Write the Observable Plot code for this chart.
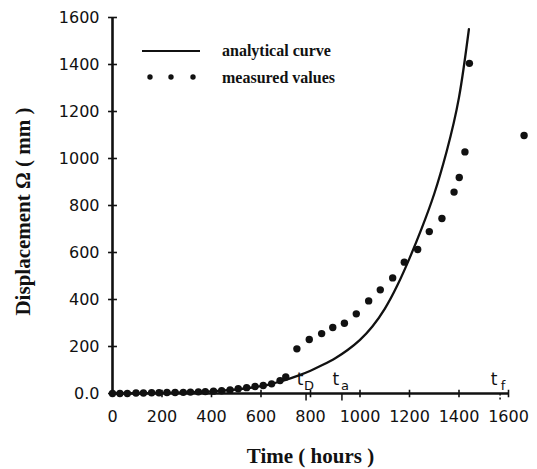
<!DOCTYPE html>
<html>
<head>
<meta charset="utf-8">
<script src="https://cdn.jsdelivr.net/npm/d3@7"></script>
<script src="https://cdn.jsdelivr.net/npm/@observablehq/plot@0.6"></script>
<style>
  html, body { margin: 0; padding: 0; background: #fff; }
  #wrap { position: relative; width: 537px; height: 469px; }
  #legend { position: absolute; left: 0; top: 0; pointer-events: none; }
</style>
</head>
<body>
<div id="wrap"></div>
<script>
// ---- data ----
const curveTime = [0, 100, 200, 300, 400, 500, 600, 650, 700, 750, 800, 850, 900, 950, 1000, 1050, 1100, 1150, 1200, 1250, 1300, 1350, 1400, 1440];
const curveDisp = [0, 1, 3, 5, 9, 17, 31, 43, 58, 76, 97, 122, 150, 185, 228, 285, 360, 458, 575, 705, 850, 1030, 1260, 1550];

const measTime = [0, 30, 60, 95, 125, 158, 188, 220, 253, 286, 315, 347, 375, 408, 441, 475, 508, 542, 576, 609, 643, 677, 700, 745, 795, 845, 890, 937, 985, 1035, 1082, 1132, 1179, 1233, 1280, 1331, 1380, 1401, 1424, 1442, 1663];
const measDisp = [0, 0, 0, 2, 2, 3, 3, 4, 4, 5, 6, 7, 8, 10, 12, 15, 20, 25, 30, 34, 41, 55, 70, 190, 230, 255, 281, 299, 339, 394, 441, 492, 559, 613, 689, 745, 857, 919, 1028, 1405, 1098];

const xTicks = [0, 200, 400, 600, 800, 1000, 1200, 1400, 1600];
const yTicks = [0, 200, 400, 600, 800, 1000, 1200, 1400, 1600];
const yTickLabels = ["0.0", "200", "400", "600", "800", "1000", "1200", "1400", "1600"];

const markerTime = [782, 927, 1566];
const markerSub = ["D", "a", "f"];
const markerDash = [null, null, "2,2"];

const legendLabels = ["analytical curve", "measured values"];
const xLabel = "Time ( hours )";
const yLabel = "Displacement \u03A9 ( mm )";

// ---- tables ----
const curve = curveTime.map((t, i) => ({t, v: curveDisp[i]}));
const meas = measTime.map((t, i) => ({t, v: measDisp[i]}));
const markers = markerTime.map((t, i) => ({t, sub: markerSub[i], dash: markerDash[i]}));

const serif = "'Liberation Serif', 'Times New Roman', serif";
const sans = "'DejaVu Sans', sans-serif";

const chart = Plot.plot({
  width: 537,
  height: 469,
  marginLeft: 112,
  marginRight: 29,
  marginTop: 17,
  marginBottom: 76,
  style: {fontFamily: sans, fontSize: "16px", background: "#fff", color: "#111", overflow: "visible"},
  x: {domain: [0, 1600]},
  y: {domain: [0, 1600]},
  marks: [
    // axis lines
    Plot.ruleY([0], {x1: -8, x2: 1600, stroke: "#111", strokeWidth: 2.6}),
    Plot.ruleX([0], {y1: -4, y2: 1600, stroke: "#111", strokeWidth: 2.6}),
    // crossing tick marks
    Plot.link(yTicks, {x1: -18, x2: 18, y1: d => d, y2: d => d, stroke: "#111", strokeWidth: 1.6}),
    Plot.link(xTicks.filter(d => d > 0), {x1: d => d, x2: d => d, y1: -16, y2: 16, stroke: "#111", strokeWidth: 1.6}),
    // tick labels
    Plot.axisY({ticks: yTicks, tickSize: 0, tickPadding: 13, tickFormat: d => yTickLabels[yTicks.indexOf(d)], label: null, fontSize: 16}),
    Plot.axisX({ticks: xTicks, tickSize: 0, tickPadding: 17, tickFormat: d => String(d), label: null, fontSize: 16}),
    // event markers t_D, t_a, t_f
    Plot.link(markers.filter(d => !d.dash), {x1: "t", x2: "t", y1: 0, y2: -30, stroke: "#111", strokeWidth: 1.5}),
    Plot.link(markers.filter(d => d.dash), {x1: "t", x2: "t", y1: 0, y2: -30, stroke: "#111", strokeWidth: 1.5, strokeDasharray: "2,2"}),
    Plot.text(markers, {x: "t", y: 0, text: () => "t", dx: -6, dy: -14, fontFamily: sans, fontSize: 17, fill: "#111"}),
    Plot.text(markers, {x: "t", y: 0, text: "sub", dx: 3, dy: -8, fontFamily: sans, fontSize: 13, fill: "#111"}),
    // analytical curve
    Plot.line(curve, {x: "t", y: "v", curve: "natural", stroke: "#111", strokeWidth: 2.3}),
    // measured values
    Plot.dot(meas, {x: "t", y: "v", r: 3.7, fill: "#111", stroke: "none"}),
    // axis labels
    Plot.text([xLabel], {frameAnchor: "bottom", textAnchor: "middle", dy: 69, fontFamily: serif, fontWeight: "bold", fontSize: 21, fill: "#111"}),
    Plot.text([yLabel], {frameAnchor: "left", textAnchor: "middle", dx: -89, dy: 6, rotate: -90, fontFamily: serif, fontWeight: "bold", fontSize: 21, fill: "#111"})
  ]
});

const wrap = document.getElementById("wrap");
wrap.appendChild(chart);

// legend overlay
const ns = "http://www.w3.org/2000/svg";
const lg = document.createElementNS(ns, "svg");
lg.setAttribute("id", "legend");
lg.setAttribute("width", 537);
lg.setAttribute("height", 120);
const line = document.createElementNS(ns, "line");
line.setAttribute("x1", 142); line.setAttribute("x2", 200);
line.setAttribute("y1", 51); line.setAttribute("y2", 51);
line.setAttribute("stroke", "#111"); line.setAttribute("stroke-width", 2);
lg.appendChild(line);
[150, 171, 193].forEach(cx => {
  const c = document.createElementNS(ns, "circle");
  c.setAttribute("cx", cx); c.setAttribute("cy", 77); c.setAttribute("r", 2.7);
  c.setAttribute("fill", "#111");
  lg.appendChild(c);
});
legendLabels.forEach((s, i) => {
  const t = document.createElementNS(ns, "text");
  t.setAttribute("x", 222); t.setAttribute("y", i === 0 ? 56 : 83);
  t.setAttribute("font-family", serif);
  t.setAttribute("font-weight", "bold");
  t.setAttribute("font-size", 16);
  t.setAttribute("fill", "#111");
  t.textContent = s;
  lg.appendChild(t);
});
wrap.appendChild(lg);
</script>
</body>
</html>
